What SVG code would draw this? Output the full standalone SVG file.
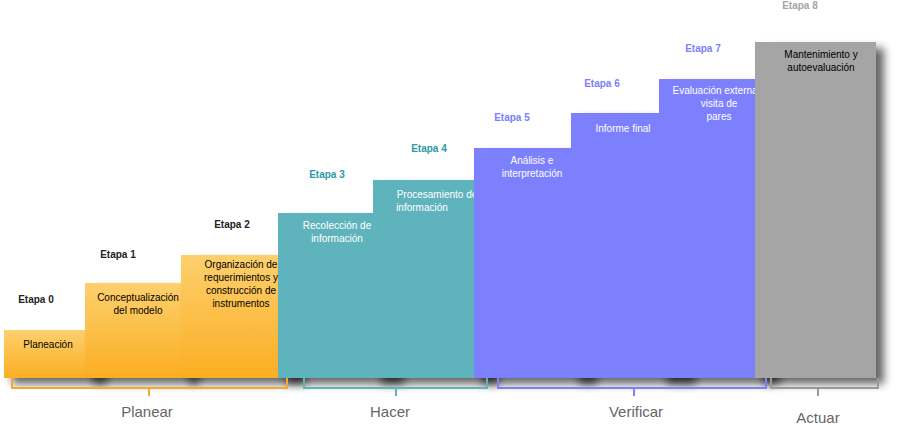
<svg xmlns="http://www.w3.org/2000/svg" width="900" height="425" viewBox="0 0 900 425">
<style>
text{font-family:"Liberation Sans",Arial,sans-serif}
.t{font-size:10px;text-anchor:middle}
.e{font-size:10px;font-weight:bold;text-anchor:middle}
.p{font-size:15px;text-anchor:middle;fill:#666}
.br{fill:none;stroke-width:2}
</style>
<defs>
<linearGradient id="og" x1="0" y1="0" x2="0" y2="1"><stop offset="0" stop-color="#fdd06e"/><stop offset="1" stop-color="#fbae22"/></linearGradient>
<filter id="sh" x="-20%" y="-10%" width="150%" height="130%"><feGaussianBlur in="SourceAlpha" stdDeviation="4"/><feOffset dx="8" dy="6"/><feComponentTransfer><feFuncA type="linear" slope="0.6"/></feComponentTransfer><feMerge><feMergeNode/><feMergeNode in="SourceGraphic"/></feMerge></filter>
</defs>
<g id="s0"><rect x="4" y="330" width="95" height="48" fill="url(#og)" filter="url(#sh)"/><text class="t" x="48" y="348">Planeación</text></g>
<g id="s1"><rect x="85" y="283" width="106" height="95" fill="url(#og)" filter="url(#sh)"/><text class="t" x="138" y="301">Conceptualización</text><text class="t" x="138" y="314">del modelo</text></g>
<g id="s2"><rect x="181" y="255" width="117" height="123" fill="url(#og)" filter="url(#sh)"/><text class="t" x="241" y="268">Organización de</text><text class="t" x="241" y="281">requerimientos y</text><text class="t" x="241" y="294">construcción de</text><text class="t" x="241" y="307">instrumentos</text></g>
<g id="s3"><rect x="278" y="213" width="118" height="165" fill="#5fb3bc" filter="url(#sh)"/><text class="t" x="337" y="229" fill="#fff">Recolección de</text><text class="t" x="337" y="242" fill="#fff">información</text></g>
<g id="s4"><rect x="373" y="180" width="118" height="198" fill="#5fb3bc" filter="url(#sh)"/><text class="t" x="437" y="198" fill="#fff">Procesamiento de</text><text class="t" x="422" y="211" fill="#fff">información</text></g>
<g id="s5"><rect x="474" y="148" width="115" height="230" fill="#7b80fc" filter="url(#sh)"/><text class="t" x="532" y="164" fill="#fff">Análisis e</text><text class="t" x="532" y="177" fill="#fff">interpretación</text></g>
<g id="s6"><rect x="571" y="113" width="117" height="265" fill="#7b80fc" filter="url(#sh)"/><text class="t" x="623" y="132" fill="#fff">Informe final</text></g>
<g id="s7"><rect x="659" y="79" width="113" height="299" fill="#7b80fc" filter="url(#sh)"/><text class="t" x="719" y="94" fill="#fff">Evaluación externa y</text><text class="t" x="719" y="107" fill="#fff">visita de</text><text class="t" x="719" y="120" fill="#fff">pares</text></g>
<g id="s8"><rect x="755" y="42" width="121" height="336" fill="#a5a5a5" filter="url(#sh)"/><text class="t" x="821" y="58">Mantenimiento y</text><text class="t" x="821" y="71">autoevaluación</text></g>
<g id="labels">
<text class="e" x="36" y="303" fill="#222">Etapa 0</text>
<text class="e" x="118" y="258" fill="#222">Etapa 1</text>
<text class="e" x="232" y="228" fill="#222">Etapa 2</text>
<text class="e" x="327" y="178" fill="#2a9aa6">Etapa 3</text>
<text class="e" x="429" y="152" fill="#2a9aa6">Etapa 4</text>
<text class="e" x="512" y="121" fill="#7b80fc">Etapa 5</text>
<text class="e" x="602" y="87" fill="#7b80fc">Etapa 6</text>
<text class="e" x="703" y="52" fill="#7b80fc">Etapa 7</text>
<text class="e" x="800" y="9" fill="#a5a5a5">Etapa 8</text>
</g>
<g id="connectors">
<path class="br" stroke="#f5a830" d="M12,378V388H287V378M149,388V396"/>
<path class="br" stroke="#5fb3bc" d="M304,378V388H487V378M396,388V396"/>
<path class="br" stroke="#7b80fc" d="M498,378V388H766V378M634,388V396"/>
<path class="br" stroke="#999" d="M771,378V388H878V378M818,388V396"/>
</g>
<text class="p" x="147" y="417">Planear</text>
<text class="p" x="390" y="417">Hacer</text>
<text class="p" x="636" y="417">Verificar</text>
<text class="p" x="818" y="423">Actuar</text>
</svg>
